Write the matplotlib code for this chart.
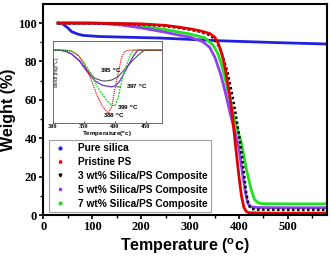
import numpy as np
import matplotlib.pyplot as plt
from matplotlib.lines import Line2D

plt.rcParams['font.family'] = 'Liberation Serif'
plt.rcParams['font.weight'] = 'bold'

# TGA curves (temperature in C, weight in %)
T_silica = [30, 40, 50, 58, 70, 81, 115, 240, 360, 480, 580]
W_silica = [100, 99.5, 97.5, 95.5, 94.3, 93.6, 93.0, 92.2, 90.8, 89.8, 89.1]

T_ps = [30, 100, 200, 250, 280, 300, 320, 340, 350, 357, 365, 372, 380, 386, 393, 400, 405, 410, 415, 420, 450, 500, 580]
W_ps = [100, 100, 99.6, 98.8, 97.8, 97.0, 96.0, 94.6, 92.8, 89.8, 84, 76, 64, 53, 36, 20, 10, 4, 1.8, 1.2, 1.0, 1.0, 1.0]

T_3 = [30, 100, 200, 250, 280, 300, 320, 340, 350, 360, 368, 377, 385, 393, 403, 410, 415, 420, 425, 440, 500, 580]
W_3 = [100, 99.9, 99.3, 98.4, 97.4, 96.6, 95.5, 93.8, 91.8, 87.5, 81.5, 74, 64, 53, 37, 22, 11, 5, 3.2, 2.8, 2.7, 2.7]

T_5 = [30, 80, 120, 160, 200, 250, 280, 300, 326, 340, 351, 357, 363, 372, 382, 390, 399, 407, 413, 418, 425, 440, 500, 580]
W_5 = [100, 100, 99.8, 99, 97.5, 95.2, 93.6, 92.7, 90.3, 87.4, 82, 77.5, 73, 64, 53, 45, 36, 22, 12, 6, 4.2, 3.9, 3.8, 3.8]

T_7 = [30, 100, 150, 200, 250, 280, 300, 330, 347, 357, 364, 370, 378, 386, 395, 405, 415, 425, 432, 440, 450, 500, 580]
W_7 = [100, 100, 99.6, 98.3, 96.6, 95.2, 94.3, 92.3, 88.5, 84, 78.5, 73, 64, 55, 46, 37.5, 24, 13, 8, 6.2, 5.9, 5.8, 5.8]

# DTG curves for the inset
Td_ps = [300, 320, 330, 340, 350, 355, 360, 371, 380, 389, 395, 400, 405, 411, 416, 421, 475]
D_ps = [0, 0, -0.03, -0.15, -0.42, -0.63, -0.85, -1.43, -1.8, -2.0, -1.8, -1.25, -0.75, -0.22, -0.05, 0, 0]

Td_7 = [300, 320, 330, 340, 350, 360, 370, 376, 385, 393, 400, 405, 411, 416, 421, 425, 430, 475]
D_7 = [0, 0, -0.03, -0.15, -0.38, -0.7, -1.1, -1.3, -1.55, -1.72, -1.78, -1.55, -1.0, -0.65, -0.35, -0.15, 0, 0]

Td_5 = [300, 310, 320, 330, 343, 355, 368, 380, 395, 402, 408, 416, 424, 430, 437, 475]
D_5 = [0, 0, -0.03, -0.12, -0.35, -0.68, -0.98, -1.12, -1.17, -1.12, -0.98, -0.7, -0.4, -0.18, 0, 0]

Td_3 = [300, 310, 320, 330, 343, 355, 368, 380, 387, 395, 405, 412, 420, 430, 440, 448, 475]
D_3 = [0, 0, -0.03, -0.12, -0.33, -0.63, -0.9, -0.98, -0.98, -0.95, -0.85, -0.7, -0.52, -0.3, -0.12, 0, 0]

labels = ['Pure silica', 'Pristine PS', '3 wt% Silica/PS Composite',
          '5 wt% Silica/PS Composite', '7 wt% Silica/PS Composite']
colors = ['#2020e0', '#e00000', '#000000', '#9040f0', '#20e020']
markers = ['o', '^', 'v', 's', 'o']

fig = plt.figure(figsize=(3.31, 2.6), dpi=100)
ax = fig.add_axes([0.131, 0.173, 0.857, 0.812])

ax.plot(T_silica, W_silica, color=colors[0], lw=2)
ax.plot(T_7, W_7, color=colors[4], lw=2)
ax.plot(T_5, W_5, color=colors[3], lw=2)
ax.plot(T_3, W_3, color=colors[2], lw=1.8, ls=(0, (1, 1)))
ax.plot(T_ps, W_ps, color=colors[1], lw=2)

ax.set_xlim(0, 580)
ax.set_ylim(0, 110)
ax.set_xticks([0, 100, 200, 300, 400, 500])
ax.set_xticks(np.arange(50, 580, 100), minor=True)
ax.set_yticks([0, 20, 40, 60, 80, 100])
ax.set_yticks(np.arange(10, 110, 20), minor=True)
ax.tick_params(which='major', direction='out', length=3, width=1.2, labelsize=9, pad=1.5)
ax.tick_params(which='minor', direction='out', length=2, width=1)
for s in ax.spines.values():
    s.set_linewidth(1.5)

sans = 'Liberation Sans'
ax.set_xlabel('Temperature ($\\mathregular{^o}$c)', family=sans,
              fontweight='bold', fontsize=11.5, labelpad=2)
ax.set_ylabel('Weight (%)', family=sans, fontweight='bold',
              fontsize=11.5, labelpad=2)

handles = [Line2D([], [], ls='none', marker=m, color=c, markersize=2)
           for m, c in zip(markers, colors)]
leg = ax.legend(handles, labels, loc='lower left', bbox_to_anchor=(0.019, 0.014),
                prop={'family': sans, 'weight': 'bold', 'size': 7.3},
                fancybox=False, edgecolor='#888888', handlelength=1.5,
                handletextpad=1.0, labelspacing=0.38, borderpad=0.35, borderaxespad=0)
leg.get_frame().set_linewidth(0.8)

# inset with DTG curves
ins = fig.add_axes([0.160, 0.527, 0.329, 0.315])
ins.plot(Td_3, D_3, color='#505050', lw=0.8)
ins.plot(Td_5, D_5, color='#6a30d8', lw=0.9)
ins.plot(Td_7, D_7, color='#20d020', lw=0.8, ls=(0, (2, 0.8)))
ins.plot(Td_ps, D_ps, color='#e00000', lw=0.8, ls=(0, (1, 0.8)))
ins.set_xlim(300, 476)
ins.set_ylim(-2.32, 0.29)
ins.set_xticks([300, 350, 400, 450])
ins.set_yticks([])
ins.tick_params(axis='x', direction='in', length=1.5, width=0.5, labelsize=4.5, pad=1)
for s in ins.spines.values():
    s.set_linewidth(0.6)
    s.set_color('#555555')
ins.set_xlabel('Temperature($\\mathregular{^o}$c)', family=sans,
               fontweight='bold', fontsize=4.5, labelpad=0.5)
ins.text(0.045, 0.62, 'dw/dt [mg/$\\mathregular{^o}$C]', transform=ins.transAxes,
         rotation=90, fontsize=3.5, family=sans, fontweight='normal', ha='center', va='center')

af = dict(family=sans, fontweight='bold', fontsize=4.5)
ins.text(376, -0.67, '395 $\\mathregular{^o}$C', va='center', **af)
ins.annotate('397 $\\mathregular{^o}$C', xy=(398, -1.17), xytext=(418, -1.17),
             va='center', arrowprops=dict(arrowstyle='-', lw=0.5, color='k'), **af)
ins.text(403, -1.84, '399 $\\mathregular{^o}$C', va='center', **af)
ins.text(381, -2.1, '388 $\\mathregular{^o}$C', va='center', **af)

fig.savefig('out.png', dpi=100)
